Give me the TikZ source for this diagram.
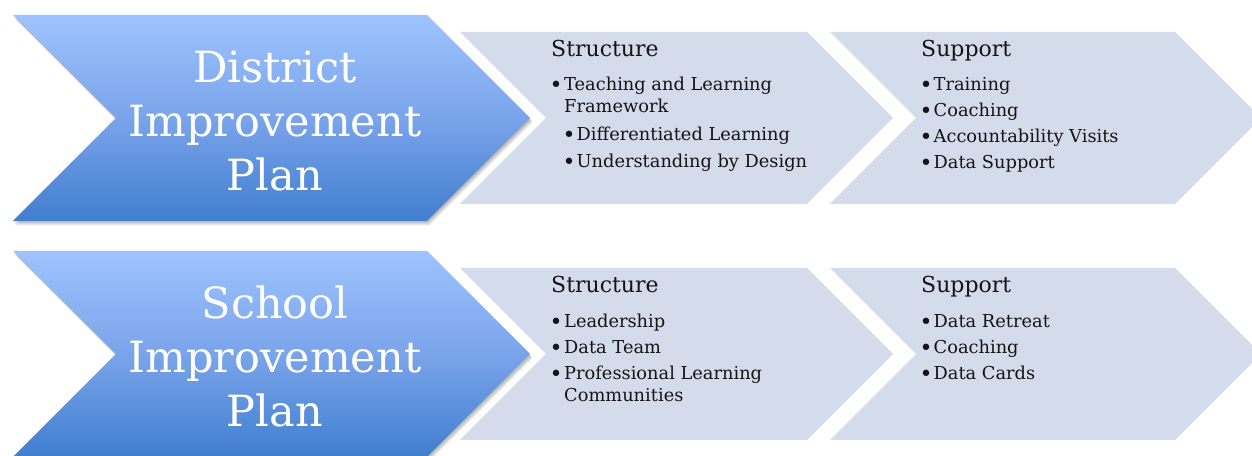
\documentclass[tikz,border=0pt]{standalone}
\usepackage{fontspec}
\setmainfont{DejaVu Serif}
\definecolor{bluetop}{RGB}{158,195,254}
\definecolor{bluemid}{RGB}{122,164,234}
\definecolor{bluebot}{RGB}{64,126,206}
\definecolor{grayfill}{RGB}{212,219,234}
\definecolor{txtc}{RGB}{20,20,20}
\newcommand\chevpath[6]{(#1,#4) -- (#2,#4) -- (#2+#3,#5) -- (#2,#6) -- (#1,#6) -- (#1+#3,#5) -- cycle}
\newcommand\mybul[2]{\makebox[#1][l]{\hspace{4bp}\makebox[0pt][c]{\raisebox{-1.6bp}{\fontsize{22bp}{22bp}\selectfont •}}}#2}
\tikzset{
  bigtxt/.style={text=white, font=\fontsize{43bp}{54bp}\selectfont, anchor=base, inner sep=0pt},
  ttl/.style={font=\fontsize{22bp}{26bp}\selectfont, anchor=base west, inner sep=0pt, text=txtc},
  itm/.style={font=\fontsize{17.8bp}{20bp}\selectfont, anchor=base west, inner sep=0pt, text=txtc},
  grayshape/.style={fill=grayfill, draw=none},
  blueshape/.style={top color=bluetop, bottom color=bluebot, middle color=bluemid, draw=none},
  shadowlayer/.style={fill=black, opacity=0.08, draw=none}
}
\begin{document}
\begin{tikzpicture}[x=1bp,y=1bp]
\useasboundingbox (0,0) rectangle (1252,456);
\clip (0,0) rectangle (1252,456);
% ---------- row 1 ----------
\fill[grayshape] \chevpath{460}{807}{86}{424}{338}{252};
\fill[grayshape] \chevpath{830}{1175}{86}{424}{338}{252};
\foreach \s in {1,...,4}
  \fill[shadowlayer, shift={(0.6*\s,-1.1*\s)}] \chevpath{13}{427}{103}{441}{338}{235};
\shade[blueshape] \chevpath{13}{427}{103}{441}{338}{235};
\node[bigtxt] (d1) at (275,373) {District};
\node[bigtxt] (d2) at (275,319) {Improvement};
\node[bigtxt] (d3) at (275,265) {Plan};
\node[ttl] (st1) at (551,399) {Structure};
\node[itm] (st1a) at (552,365) {\mybul{12bp}{Teaching and Learning}};
\node[itm] (st1b) at (564,343) {Framework};
\node[itm] (st1c) at (565,315) {\mybul{11.5bp}{Differentiated Learning}};
\node[itm] (st1d) at (565,288) {\mybul{11.5bp}{Understanding by Design}};
\node[ttl] (su1) at (921,399) {Support};
\node[itm] (su1a) at (922,365) {\mybul{11.5bp}{Training}};
\node[itm] (su1b) at (922,339) {\mybul{11.5bp}{Coaching}};
\node[itm] (su1c) at (922,313) {\mybul{11.5bp}{Accountability Visits}};
\node[itm] (su1d) at (922,287) {\mybul{11.5bp}{Data Support}};
% ---------- row 2 ----------
\fill[grayshape] \chevpath{460}{807}{86}{188}{102}{16};
\fill[grayshape] \chevpath{830}{1175}{86}{188}{102}{16};
\foreach \s in {1,...,4}
  \fill[shadowlayer, shift={(0.6*\s,-1.1*\s)}] \chevpath{13}{427}{103}{205}{102}{-1};
\shade[blueshape] \chevpath{13}{427}{103}{205}{102}{-1};
\node[bigtxt] (s1) at (275,137) {School};
\node[bigtxt] (s2) at (275,83) {Improvement};
\node[bigtxt] (s3) at (275,29) {Plan};
\node[ttl] (st2) at (551,163) {Structure};
\node[itm] (st2a) at (552,128) {\mybul{12bp}{Leadership}};
\node[itm] (st2b) at (552,102) {\mybul{12bp}{Data Team}};
\node[itm] (st2c) at (552,76) {\mybul{12bp}{Professional Learning}};
\node[itm] (st2d) at (564,54) {Communities};
\node[ttl] (su2) at (921,163) {Support};
\node[itm] (su2a) at (922,128) {\mybul{11.5bp}{Data Retreat}};
\node[itm] (su2b) at (922,102) {\mybul{11.5bp}{Coaching}};
\node[itm] (su2c) at (922,76) {\mybul{11.5bp}{Data Cards}};
\end{tikzpicture}
\end{document}
